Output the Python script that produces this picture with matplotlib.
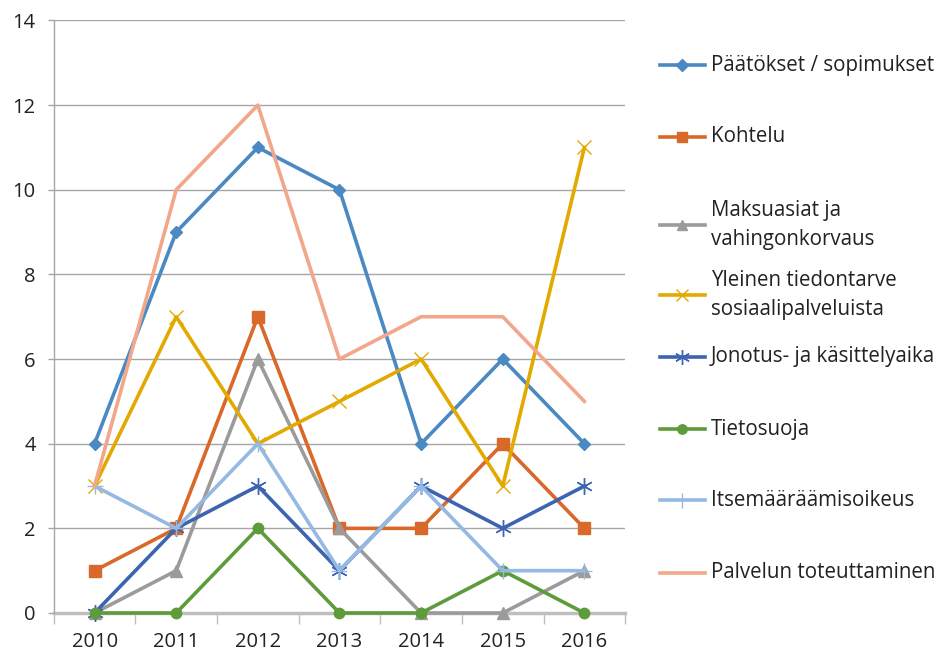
import matplotlib.pyplot as plt
from matplotlib.lines import Line2D
from matplotlib.ticker import FixedLocator

# Data
years = ['2010', '2011', '2012', '2013', '2014', '2015', '2016']

paatokset = [4, 9, 11, 10, 4, 6, 4]
kohtelu = [1, 2, 7, 2, 2, 4, 2]
maksuasiat = [0, 1, 6, 2, 0, 0, 1]
yleinen = [3, 7, 4, 5, 6, 3, 11]
jonotus = [0, 2, 3, 1, 3, 2, 3]
tietosuoja = [0, 0, 2, 0, 0, 1, 0]
itsemaaraamis = [3, 2, 4, 1, 3, 1, 1]
palvelun = [3, 10, 12, 6, 7, 7, 5]

labels = ['Päätökset / sopimukset', 'Kohtelu', 'Maksuasiat ja\nvahingonkorvaus',
          'Yleinen tiedontarve\nsosiaalipalveluista', 'Jonotus- ja käsittelyaika',
          'Tietosuoja', 'Itsemääräämisoikeus', 'Palvelun toteuttaminen']

plt.rcParams['font.family'] = ['Open Sans', 'DejaVu Sans']

W, H = 943, 654
fig = plt.figure(figsize=(W / 100, H / 100), dpi=100)
ax = fig.add_axes([0.057, 0.0627, 0.606, 0.906])

x = list(range(len(years)))
lw = 2.6

# series: values, color, marker, size
series = [
    (paatokset, '#4A89C2', 'D', 6.5),
    (kohtelu, '#D9692A', 's', 8),
    (maksuasiat, '#9B9B9B', '^', 8),
    (yleinen, '#E2AA00', 'x', 10),
    (jonotus, '#3C64B1', (6, 2, 0), 12),
    (tietosuoja, '#5E9B3B', 'o', 7.5),
    (itsemaaraamis, '#95B9E2', '+', 12),
    (palvelun, '#F2A68A', None, 0),
]

for vals, col, mk, ms in series:
    ax.plot(x, vals, color=col, lw=lw, marker=mk, markersize=ms,
            markeredgewidth=1.0, markeredgecolor=col, markerfacecolor=col,
            clip_on=False, zorder=3)

ax.set_xlim(-0.5, 6.5)
ax.set_ylim(0, 14)
ax.set_yticks(range(0, 15, 2))
ax.yaxis.grid(True, color='#A6A6A6', lw=1.0)
ax.set_axisbelow(True)

ax.set_xticks(x)
ax.set_xticklabels(years)
ax.xaxis.set_minor_locator(FixedLocator([i - 0.5 for i in range(len(years) + 1)]))
ax.tick_params(axis='x', which='major', length=0, pad=14, labelsize=14.5, colors='#222222')
ax.tick_params(axis='x', which='minor', length=8, width=1, color='#BFBFBF')
ax.tick_params(axis='y', length=4, width=1, color='#A6A6A6', labelsize=14.5, labelcolor='#222222', pad=9)

for s in ['top', 'right']:
    ax.spines[s].set_visible(False)
ax.spines['left'].set_color('#A6A6A6')
ax.spines['left'].set_linewidth(1)
ax.spines['bottom'].set_color('#BFBFBF')
ax.spines['bottom'].set_linewidth(2.5)
ax.spines['bottom'].set_zorder(2)

# Legend drawn by hand (Excel-like uneven spacing)
leg_y = [65, 137, 225, 295, 357, 429, 500, 573]
for (vals, col, mk, ms), lab, yp in zip(series, labels, leg_y):
    yf = 1 - yp / H
    fig.add_artist(Line2D([660 / W, 705 / W], [yf, yf], color=col, lw=lw))
    if mk is not None:
        fig.add_artist(Line2D([682 / W], [yf], color=col, marker=mk, markersize=ms * 0.9,
                              markeredgewidth=1.0, markeredgecolor=col, markerfacecolor=col))
    fig.text(711 / W, yf, lab, fontsize=14.8, va='center', ha='left',
             color='#222222', linespacing=1.45)

plt.savefig('out.png', dpi=100)
